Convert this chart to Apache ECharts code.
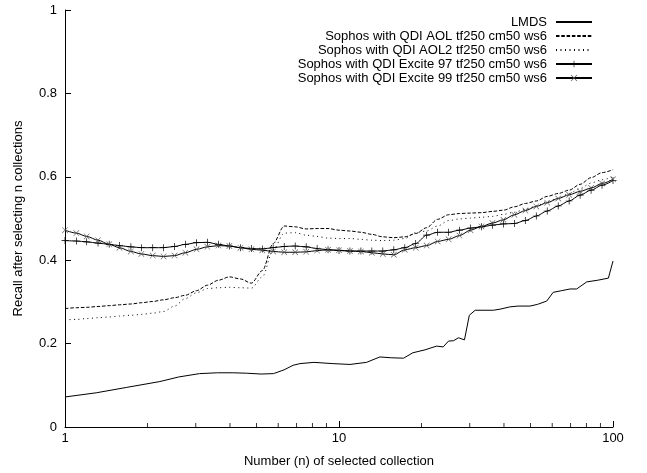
<!DOCTYPE html>
<html>
<head>
<meta charset="utf-8">
<script src="https://cdn.jsdelivr.net/npm/echarts@6/dist/echarts.min.js"></script>
<style>
html,body{margin:0;padding:0;background:#fff;}
#chart{width:647px;height:473px;}
</style>
</head>
<body>
<div id="chart"></div>
<script>
// ---- data ----
const seriesNames = [
  'LMDS',
  'Sophos with QDI AOL tf250 cm50 ws6',
  'Sophos with QDI AOL2 tf250 cm50 ws6',
  'Sophos with QDI Excite 97 tf250 cm50 ws6',
  'Sophos with QDI Excite 99 tf250 cm50 ws6'
];
const xTickLabels = ['1', '10', '100'];
const yTickLabels = ['0', '0.2', '0.4', '0.6', '0.8', '1'];
const minorTickValues = [2,3,4,5,6,7,8,9,20,30,40,50,60,70,80,90];

const lmdsN = [1,1.3,1.68,2.22,2.6,3.1,3.6,4.1,4.6,5.2,5.77,6.3,6.8,7.2,8.1,9.5,10.97,12.6,14.1,15.5,17.2,18.6,20.6,22.7,24,25.1,26.2,27.3,28.7,29.9,31.4,36.6,39,42,45,49.8,53,57.3,60.5,65,69.7,73.7,80.2,88,96.2,100];
const lmdsRecall = [0.072,0.082,0.095,0.109,0.120,0.128,0.130,0.130,0.129,0.127,0.128,0.137,0.148,0.152,0.155,0.152,0.150,0.155,0.168,0.166,0.165,0.178,0.185,0.194,0.192,0.206,0.207,0.214,0.209,0.268,0.280,0.280,0.283,0.288,0.290,0.290,0.294,0.302,0.323,0.327,0.331,0.331,0.348,0.352,0.357,0.398];

const nSamples = [1,1.1,1.2,1.32,1.45,1.58,1.74,1.9,2.09,2.29,2.51,2.75,3.02,3.31,3.63,3.98,4.37,4.79,5.25,5.75,6.31,6.92,7.59,8.32,9.12,10,10.96,12.02,13.18,14.45,15.85,17.38,19.05,20.89,22.91,25.12,27.54,30.2,33.11,36.31,39.81,43.65,47.86,52.48,57.54,63.1,69.18,75.86,83.18,91.2,100];
const aolRecall = [0.284,0.286,0.287,0.289,0.291,0.293,0.295,0.298,0.301,0.305,0.310,0.316,0.327,0.340,0.352,0.360,0.355,0.345,0.375,0.440,0.482,0.480,0.475,0.476,0.476,0.472,0.470,0.467,0.462,0.456,0.454,0.456,0.464,0.478,0.498,0.509,0.512,0.513,0.514,0.517,0.520,0.528,0.536,0.542,0.553,0.560,0.568,0.582,0.598,0.610,0.617];
const aol2Recall = [0.257,0.258,0.260,0.262,0.264,0.266,0.268,0.270,0.273,0.277,0.290,0.308,0.322,0.332,0.334,0.335,0.334,0.333,0.360,0.425,0.465,0.466,0.460,0.457,0.453,0.452,0.452,0.450,0.448,0.447,0.448,0.452,0.466,0.470,0.482,0.495,0.499,0.501,0.503,0.505,0.510,0.515,0.522,0.530,0.541,0.548,0.560,0.572,0.585,0.593,0.600];
const excite97Recall = [0.447,0.446,0.444,0.441,0.438,0.435,0.432,0.430,0.430,0.430,0.433,0.438,0.442,0.443,0.438,0.434,0.430,0.428,0.427,0.430,0.433,0.434,0.432,0.428,0.425,0.423,0.422,0.422,0.422,0.422,0.425,0.430,0.440,0.460,0.467,0.467,0.472,0.477,0.480,0.484,0.487,0.488,0.495,0.506,0.518,0.530,0.542,0.556,0.568,0.580,0.591];
const excite99Recall = [0.472,0.465,0.457,0.448,0.438,0.430,0.421,0.415,0.411,0.409,0.411,0.418,0.426,0.432,0.435,0.434,0.430,0.426,0.424,0.421,0.419,0.419,0.420,0.423,0.425,0.424,0.422,0.421,0.418,0.415,0.413,0.425,0.430,0.435,0.445,0.450,0.459,0.472,0.481,0.489,0.497,0.509,0.519,0.529,0.538,0.548,0.557,0.565,0.573,0.584,0.594];

// ---- chart ----
const FONT = 'Liberation Sans, Arial, Helvetica, sans-serif';
const pair = (xs, ys) => xs.map((x, i) => [x, ys[i]]);
const plusPath = 'path://M4.5,0H5.5V10H4.5Z M0,4.5H10V5.5H0Z';
const crossPath = 'path://M0,0.7L0.7,0L10,9.3L9.3,10Z M9.3,0L10,0.7L0.7,10L0,9.3Z';

const base = {
  type: 'line',
  showSymbol: false,
  symbol: 'none',
  animation: false,
  emphasis: { disabled: true },
  smooth: 0.3,
  smoothMonotone: 'x'
};

const chart = echarts.init(document.getElementById('chart'), null, { renderer: 'canvas' });
chart.setOption({
  animation: false,
  backgroundColor: '#fff',
  textStyle: { fontFamily: FONT, color: '#000' },
  grid: { left: 65, right: 34, top: 10, bottom: 43, containLabel: false },
  legend: {
    data: [
      { name: seriesNames[0], itemStyle: { opacity: 0 } },
      { name: seriesNames[1], itemStyle: { opacity: 0 } },
      { name: seriesNames[2], itemStyle: { opacity: 0 } },
      { name: seriesNames[3] },
      { name: seriesNames[4] }
    ],
    orient: 'vertical',
    align: 'right',
    right: 54,
    top: 15,
    padding: 0,
    itemWidth: 36,
    itemHeight: 8,
    itemGap: 0,
    selectedMode: false,
    textStyle: { fontFamily: FONT, fontSize: 13, color: '#000', lineHeight: 14, padding: [0, 4, 0, 0] }
  },
  xAxis: {
    type: 'log',
    logBase: 10,
    min: 1,
    max: 100,
    name: 'Number (n) of selected collection',
    nameLocation: 'middle',
    nameGap: 28,
    nameTextStyle: { fontFamily: FONT, fontSize: 13, color: '#000' },
    axisLine: { lineStyle: { color: '#000', width: 1 } },
    axisTick: { inside: true, length: 6, lineStyle: { color: '#000' } },
    axisLabel: { fontFamily: FONT, fontSize: 13, color: '#000', margin: 5,
      formatter: v => xTickLabels[Math.round(Math.log10(v))] },
    splitLine: { show: false }
  },
  yAxis: {
    type: 'value',
    min: 0,
    max: 1,
    interval: 0.2,
    name: 'Recall after selecting n collections',
    nameLocation: 'middle',
    nameGap: 40,
    nameTextStyle: { fontFamily: FONT, fontSize: 13, color: '#000' },
    axisLine: { show: true, lineStyle: { color: '#000', width: 1 } },
    axisTick: { show: true, inside: true, length: 6, lineStyle: { color: '#000' } },
    axisLabel: { fontFamily: FONT, fontSize: 13, color: '#000', margin: 8,
      formatter: v => yTickLabels[Math.round(v / 0.2)] },
    splitLine: { show: false }
  },
  series: [
    Object.assign({}, base, {
      name: seriesNames[0], smooth: false,
      data: pair(lmdsN, lmdsRecall),
      lineStyle: { color: '#000', width: 1, type: 'solid' },
      itemStyle: { color: '#000' }
    }),
    Object.assign({}, base, {
      name: seriesNames[1],
      data: pair(nSamples, aolRecall),
      lineStyle: { color: '#000', width: 1, type: [3.5, 1.8] },
      itemStyle: { color: '#000' }
    }),
    Object.assign({}, base, {
      name: seriesNames[2],
      data: pair(nSamples, aol2Recall),
      lineStyle: { color: '#000', width: 1, type: [1, 3.5] },
      itemStyle: { color: '#000' }
    }),
    Object.assign({}, base, {
      name: seriesNames[3],
      showSymbol: true,
      symbol: plusPath,
      symbolSize: 7,
      data: pair(nSamples, excite97Recall),
      lineStyle: { color: '#000', width: 1 },
      itemStyle: { color: '#000' }
    }),
    Object.assign({}, base, {
      name: seriesNames[4],
      showSymbol: true,
      symbol: crossPath,
      symbolSize: 6,
      data: pair(nSamples, excite99Recall),
      lineStyle: { color: '#000', width: 1 },
      itemStyle: { color: '#555' }
    }),
    {
      type: 'scatter',
      name: 'minorTicks',
      silent: true,
      animation: false,
      clip: false,
      symbol: 'rect',
      symbolSize: [1, 4],
      symbolOffset: [0, '-50%'],
      itemStyle: { color: '#000' },
      emphasis: { disabled: true },
      data: minorTickValues.map(v => [v, 0]),
      z: 5
    }
  ]
});
</script>
</body>
</html>
